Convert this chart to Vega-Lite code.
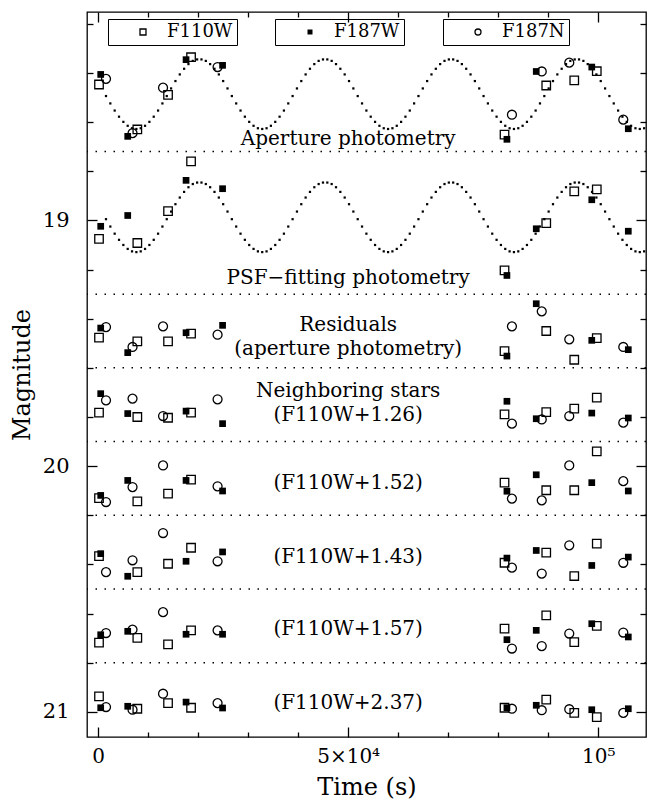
{
  "$schema": "https://vega.github.io/schema/vega-lite/v6.json",
  "width": 559,
  "height": 725,
  "autosize": {"type": "none"},
  "padding": {"left": 87, "top": 12, "right": 7, "bottom": 65},
  "background": "white",
  "config": {
    "view": {"stroke": "black", "strokeWidth": 1.3},
    "font": "DejaVu Serif",
    "axis": {"grid": false, "domain": false, "tickColor": "black", "tickWidth": 1.3, "labelColor": "black", "titleColor": "black", "labelFont": "DejaVu Serif", "titleFont": "DejaVu Serif", "titleFontWeight": "normal"},
    "legend": {"labelFont": "DejaVu Serif", "labelFontSize": 18, "labelColor": "black", "strokeColor": "black", "padding": 4, "symbolStrokeWidth": 1.3, "symbolStrokeColor": "black", "symbolOffset": 22, "labelOffset": 15, "title": null}
  },
  "datasets": {
    "sep": [{"m": 18.72}, {"m": 19.30}, {"m": 19.60}, {"m": 19.90}, {"m": 20.20}, {"m": 20.50}, {"m": 20.80}],
    "notes": [
      {"t": 50000, "m": 18.695, "s": "Aperture photometry"},
      {"t": 50000, "m": 19.259, "s": "PSF−fitting photometry"},
      {"t": 50000, "m": 19.450, "s": "Residuals"},
      {"t": 50000, "m": 19.549, "s": "(aperture photometry)"},
      {"t": 50000, "m": 19.720, "s": "Neighboring stars"},
      {"t": 50000, "m": 19.815, "s": "(F110W+1.26)"},
      {"t": 50000, "m": 20.094, "s": "(F110W+1.52)"},
      {"t": 50000, "m": 20.392, "s": "(F110W+1.43)"},
      {"t": 50000, "m": 20.688, "s": "(F110W+1.57)"},
      {"t": 50000, "m": 20.990, "s": "(F110W+2.37)"}
    ],
    "fit": [
      {"t":1597,"a":18.494,"p":18.995},{"t":2464,"a":18.524,"p":19.025},{"t":3332,"a":18.553,"p":19.054},{"t":4199,"a":18.578,"p":19.079},{"t":5067,"a":18.599,"p":19.100},{"t":5934,"a":18.615,"p":19.116},{"t":6802,"a":18.625,"p":19.126},{"t":7669,"a":18.628,"p":19.129},{"t":8537,"a":18.625,"p":19.126},{"t":9404,"a":18.615,"p":19.116},{"t":10272,"a":18.599,"p":19.100},{"t":11139,"a":18.578,"p":19.079},{"t":12007,"a":18.553,"p":19.054},{"t":12874,"a":18.524,"p":19.025},{"t":13742,"a":18.494,"p":18.995},{"t":14609,"a":18.463,"p":18.964},{"t":15477,"a":18.433,"p":18.934},{"t":16344,"a":18.406,"p":18.907},{"t":17212,"a":18.383,"p":18.884},{"t":18079,"a":18.364,"p":18.865},{"t":18947,"a":18.351,"p":18.852},{"t":19814,"a":18.345,"p":18.846},
      {"t":20682,"a":18.345,"p":18.846},{"t":21549,"a":18.351,"p":18.852},{"t":22417,"a":18.364,"p":18.865},{"t":23284,"a":18.383,"p":18.884},{"t":24152,"a":18.406,"p":18.907},{"t":25019,"a":18.433,"p":18.934},{"t":25887,"a":18.463,"p":18.964},{"t":26754,"a":18.494,"p":18.995},{"t":27622,"a":18.524,"p":19.025},{"t":28489,"a":18.553,"p":19.054},{"t":29357,"a":18.578,"p":19.079},{"t":30224,"a":18.599,"p":19.100},{"t":31092,"a":18.615,"p":19.116},{"t":31959,"a":18.625,"p":19.126},{"t":32827,"a":18.628,"p":19.129},{"t":33694,"a":18.625,"p":19.126},{"t":34562,"a":18.615,"p":19.116},{"t":35429,"a":18.599,"p":19.100},{"t":36297,"a":18.578,"p":19.079},{"t":37164,"a":18.553,"p":19.054},{"t":38032,"a":18.524,"p":19.025},{"t":38899,"a":18.494,"p":18.995},{"t":39767,"a":18.463,"p":18.964},{"t":40634,"a":18.433,"p":18.934},{"t":41502,"a":18.406,"p":18.907},{"t":42369,"a":18.383,"p":18.884},{"t":43237,"a":18.364,"p":18.865},{"t":44104,"a":18.351,"p":18.852},{"t":44972,"a":18.345,"p":18.846},
      {"t":45839,"a":18.345,"p":18.846},{"t":46707,"a":18.351,"p":18.852},{"t":47574,"a":18.364,"p":18.865},{"t":48442,"a":18.383,"p":18.884},{"t":49309,"a":18.406,"p":18.907},{"t":50177,"a":18.433,"p":18.934},{"t":51044,"a":18.463,"p":18.964},{"t":51912,"a":18.494,"p":18.995},{"t":52779,"a":18.524,"p":19.025},{"t":53647,"a":18.553,"p":19.054},{"t":54514,"a":18.578,"p":19.079},{"t":55382,"a":18.599,"p":19.100},{"t":56249,"a":18.615,"p":19.116},{"t":57117,"a":18.625,"p":19.126},{"t":57984,"a":18.628,"p":19.129},{"t":58852,"a":18.625,"p":19.126},{"t":59719,"a":18.615,"p":19.116},{"t":60587,"a":18.599,"p":19.100},{"t":61454,"a":18.578,"p":19.079},{"t":62322,"a":18.553,"p":19.054},{"t":63189,"a":18.524,"p":19.025},{"t":64057,"a":18.494,"p":18.995},{"t":64924,"a":18.463,"p":18.964},{"t":65792,"a":18.433,"p":18.934},{"t":66659,"a":18.406,"p":18.907},{"t":67527,"a":18.383,"p":18.884},{"t":68394,"a":18.364,"p":18.865},{"t":69262,"a":18.351,"p":18.852},{"t":70129,"a":18.345,"p":18.846},
      {"t":70997,"a":18.345,"p":18.846},{"t":71864,"a":18.351,"p":18.852},{"t":72732,"a":18.364,"p":18.865},{"t":73599,"a":18.383,"p":18.884},{"t":74467,"a":18.406,"p":18.907},{"t":75334,"a":18.433,"p":18.934},{"t":76202,"a":18.463,"p":18.964},{"t":77069,"a":18.494,"p":18.995},{"t":77937,"a":18.524,"p":19.025},{"t":78804,"a":18.553,"p":19.054},{"t":79672,"a":18.578,"p":19.079},{"t":80539,"a":18.599,"p":19.100},{"t":81407,"a":18.615,"p":19.116},{"t":82274,"a":18.625,"p":19.126},{"t":83142,"a":18.628,"p":19.129},{"t":84009,"a":18.625,"p":19.126},{"t":84877,"a":18.615,"p":19.116},{"t":85744,"a":18.599,"p":19.100},{"t":86612,"a":18.578,"p":19.079},{"t":87479,"a":18.553,"p":19.054},{"t":88347,"a":18.524,"p":19.025},{"t":89214,"a":18.494,"p":18.995},{"t":90082,"a":18.463,"p":18.964},{"t":90949,"a":18.433,"p":18.934},{"t":91817,"a":18.406,"p":18.907},{"t":92684,"a":18.383,"p":18.884},{"t":93552,"a":18.364,"p":18.865},{"t":94419,"a":18.351,"p":18.852},{"t":95287,"a":18.345,"p":18.846},
      {"t":96154,"a":18.345,"p":18.846},{"t":97022,"a":18.351,"p":18.852},{"t":97889,"a":18.364,"p":18.865},{"t":98757,"a":18.383,"p":18.884},{"t":99624,"a":18.406,"p":18.907},{"t":100492,"a":18.433,"p":18.934},{"t":101359,"a":18.463,"p":18.964},{"t":102227,"a":18.494,"p":18.995},{"t":103094,"a":18.524,"p":19.025},{"t":103962,"a":18.553,"p":19.054},{"t":104829,"a":18.578,"p":19.079},{"t":105697,"a":18.599,"p":19.100},{"t":106564,"a":18.615,"p":19.116},{"t":107432,"a":18.625,"p":19.126},{"t":108299,"a":18.628,"p":19.129},{"t":109167,"a":18.625,"p":19.126}
    ],
    "obs": [
      {"t":200,"m":18.447,"f":"F110W"},{"t":540,"m":18.406,"f":"F187W"},{"t":1600,"m":18.424,"f":"F187N"},
      {"t":5940,"m":18.658,"f":"F187W"},{"t":6900,"m":18.645,"f":"F187N"},{"t":7860,"m":18.630,"f":"F110W"},
      {"t":13000,"m":18.460,"f":"F187N"},{"t":14000,"m":18.489,"f":"F110W"},
      {"t":17600,"m":18.346,"f":"F187W"},{"t":18600,"m":18.336,"f":"F110W"},
      {"t":23900,"m":18.376,"f":"F187N"},{"t":24900,"m":18.369,"f":"F187W"},
      {"t":81260,"m":18.651,"f":"F110W"},{"t":81740,"m":18.670,"f":"F187W"},{"t":82740,"m":18.570,"f":"F187N"},
      {"t":87600,"m":18.394,"f":"F187W"},{"t":88700,"m":18.394,"f":"F187N"},{"t":89600,"m":18.451,"f":"F110W"},
      {"t":94200,"m":18.358,"f":"F187N"},{"t":95200,"m":18.430,"f":"F110W"},
      {"t":98700,"m":18.376,"f":"F187W"},{"t":99700,"m":18.393,"f":"F110W"},
      {"t":105000,"m":18.590,"f":"F187N"},{"t":106000,"m":18.627,"f":"F187W"},

      {"t":540,"m":19.024,"f":"F187W"},{"t":200,"m":19.075,"f":"F110W"},
      {"t":5940,"m":18.980,"f":"F187W"},{"t":7860,"m":19.092,"f":"F110W"},
      {"t":14000,"m":18.962,"f":"F110W"},
      {"t":17600,"m":18.837,"f":"F187W"},{"t":18600,"m":18.760,"f":"F110W"},
      {"t":24900,"m":18.871,"f":"F187W"},
      {"t":81260,"m":19.203,"f":"F110W"},{"t":81740,"m":19.224,"f":"F187W"},
      {"t":87600,"m":19.034,"f":"F187W"},{"t":89600,"m":19.011,"f":"F110W"},
      {"t":95200,"m":18.882,"f":"F110W"},
      {"t":98700,"m":18.916,"f":"F187W"},{"t":99700,"m":18.874,"f":"F110W"},
      {"t":106000,"m":19.044,"f":"F187W"},

      {"t":540,"m":19.438,"f":"F187W"},{"t":1600,"m":19.434,"f":"F187N"},{"t":200,"m":19.477,"f":"F110W"},
      {"t":5940,"m":19.538,"f":"F187W"},{"t":6900,"m":19.515,"f":"F187N"},{"t":7860,"m":19.492,"f":"F110W"},
      {"t":13000,"m":19.431,"f":"F187N"},{"t":14000,"m":19.492,"f":"F110W"},
      {"t":17600,"m":19.457,"f":"F187W"},{"t":18600,"m":19.461,"f":"F110W"},
      {"t":23900,"m":19.465,"f":"F187N"},{"t":24900,"m":19.427,"f":"F187W"},
      {"t":81260,"m":19.532,"f":"F110W"},{"t":81740,"m":19.552,"f":"F187W"},{"t":82740,"m":19.431,"f":"F187N"},
      {"t":87600,"m":19.339,"f":"F187W"},{"t":88700,"m":19.370,"f":"F187N"},{"t":89600,"m":19.450,"f":"F110W"},
      {"t":94200,"m":19.484,"f":"F187N"},{"t":95200,"m":19.567,"f":"F110W"},
      {"t":98700,"m":19.488,"f":"F187W"},{"t":99700,"m":19.479,"f":"F110W"},
      {"t":105000,"m":19.515,"f":"F187N"},{"t":106000,"m":19.526,"f":"F187W"},

      {"t":540,"m":19.705,"f":"F187W"},{"t":1600,"m":19.732,"f":"F187N"},{"t":200,"m":19.782,"f":"F110W"},
      {"t":5940,"m":19.786,"f":"F187W"},{"t":6900,"m":19.725,"f":"F187N"},{"t":7860,"m":19.800,"f":"F110W"},
      {"t":13000,"m":19.796,"f":"F187N"},{"t":14000,"m":19.803,"f":"F110W"},
      {"t":17600,"m":19.776,"f":"F187W"},{"t":18600,"m":19.782,"f":"F110W"},
      {"t":23900,"m":19.728,"f":"F187N"},{"t":24900,"m":19.827,"f":"F187W"},
      {"t":81740,"m":19.736,"f":"F187W"},{"t":81260,"m":19.789,"f":"F110W"},{"t":82740,"m":19.827,"f":"F187N"},
      {"t":87600,"m":19.807,"f":"F187W"},{"t":88700,"m":19.810,"f":"F187N"},{"t":89600,"m":19.780,"f":"F110W"},
      {"t":94200,"m":19.796,"f":"F187N"},{"t":95200,"m":19.766,"f":"F110W"},
      {"t":98700,"m":19.784,"f":"F187W"},{"t":99700,"m":19.721,"f":"F110W"},
      {"t":105000,"m":19.823,"f":"F187N"},{"t":106000,"m":19.804,"f":"F187W"},

      {"t":540,"m":20.119,"f":"F187W"},{"t":200,"m":20.130,"f":"F110W"},{"t":1600,"m":20.146,"f":"F187N"},
      {"t":5940,"m":20.058,"f":"F187W"},{"t":6900,"m":20.085,"f":"F187N"},{"t":7860,"m":20.143,"f":"F110W"},
      {"t":13000,"m":19.997,"f":"F187N"},{"t":14000,"m":20.112,"f":"F110W"},
      {"t":17600,"m":20.058,"f":"F187W"},{"t":18600,"m":20.055,"f":"F110W"},
      {"t":23900,"m":20.082,"f":"F187N"},{"t":24900,"m":20.101,"f":"F187W"},
      {"t":81260,"m":20.067,"f":"F110W"},{"t":81740,"m":20.102,"f":"F187W"},{"t":82740,"m":20.132,"f":"F187N"},
      {"t":87600,"m":20.035,"f":"F187W"},{"t":88700,"m":20.139,"f":"F187N"},{"t":89600,"m":20.098,"f":"F110W"},
      {"t":94200,"m":19.997,"f":"F187N"},{"t":95200,"m":20.098,"f":"F110W"},
      {"t":98700,"m":20.067,"f":"F187W"},{"t":99700,"m":19.940,"f":"F110W"},
      {"t":105000,"m":20.061,"f":"F187N"},{"t":106000,"m":20.101,"f":"F187W"},

      {"t":540,"m":20.356,"f":"F187W"},{"t":200,"m":20.366,"f":"F110W"},{"t":1600,"m":20.431,"f":"F187N"},
      {"t":5940,"m":20.448,"f":"F187W"},{"t":6900,"m":20.383,"f":"F187N"},{"t":7860,"m":20.431,"f":"F110W"},
      {"t":13000,"m":20.272,"f":"F187N"},{"t":14000,"m":20.397,"f":"F110W"},
      {"t":17600,"m":20.387,"f":"F187W"},{"t":18600,"m":20.332,"f":"F110W"},
      {"t":23900,"m":20.387,"f":"F187N"},{"t":24900,"m":20.349,"f":"F187W"},
      {"t":81260,"m":20.393,"f":"F110W"},{"t":81740,"m":20.374,"f":"F187W"},{"t":82740,"m":20.413,"f":"F187N"},
      {"t":87600,"m":20.343,"f":"F187W"},{"t":88700,"m":20.437,"f":"F187N"},{"t":89600,"m":20.352,"f":"F110W"},
      {"t":94200,"m":20.322,"f":"F187N"},{"t":95200,"m":20.447,"f":"F110W"},
      {"t":98700,"m":20.404,"f":"F187W"},{"t":99700,"m":20.315,"f":"F110W"},
      {"t":105000,"m":20.393,"f":"F187N"},{"t":106000,"m":20.370,"f":"F187W"},

      {"t":540,"m":20.686,"f":"F187W"},{"t":1600,"m":20.679,"f":"F187N"},{"t":200,"m":20.718,"f":"F110W"},
      {"t":5940,"m":20.672,"f":"F187W"},{"t":6900,"m":20.665,"f":"F187N"},{"t":7860,"m":20.699,"f":"F110W"},
      {"t":13000,"m":20.594,"f":"F187N"},{"t":14000,"m":20.725,"f":"F110W"},
      {"t":17600,"m":20.684,"f":"F187W"},{"t":18600,"m":20.668,"f":"F110W"},
      {"t":23900,"m":20.668,"f":"F187N"},{"t":24900,"m":20.684,"f":"F187W"},
      {"t":81260,"m":20.661,"f":"F110W"},{"t":81740,"m":20.706,"f":"F187W"},{"t":82740,"m":20.742,"f":"F187N"},
      {"t":87600,"m":20.668,"f":"F187W"},{"t":88700,"m":20.732,"f":"F187N"},{"t":89600,"m":20.607,"f":"F110W"},
      {"t":94200,"m":20.681,"f":"F187N"},{"t":95200,"m":20.716,"f":"F110W"},
      {"t":98700,"m":20.641,"f":"F187W"},{"t":99700,"m":20.650,"f":"F110W"},
      {"t":105000,"m":20.677,"f":"F187N"},{"t":106000,"m":20.695,"f":"F187W"},

      {"t":200,"m":20.937,"f":"F110W"},{"t":540,"m":20.983,"f":"F187W"},{"t":1600,"m":20.980,"f":"F187N"},
      {"t":5940,"m":20.977,"f":"F187W"},{"t":6900,"m":20.991,"f":"F187N"},{"t":7860,"m":20.987,"f":"F110W"},
      {"t":13000,"m":20.926,"f":"F187N"},{"t":14000,"m":20.964,"f":"F110W"},
      {"t":17600,"m":20.960,"f":"F187W"},{"t":18600,"m":20.983,"f":"F110W"},
      {"t":23900,"m":20.964,"f":"F187N"},{"t":24900,"m":20.984,"f":"F187W"},
      {"t":81260,"m":20.983,"f":"F110W"},{"t":81740,"m":20.983,"f":"F187W"},{"t":82740,"m":20.987,"f":"F187N"},
      {"t":87600,"m":20.973,"f":"F187W"},{"t":88700,"m":20.993,"f":"F187N"},{"t":89600,"m":20.950,"f":"F110W"},
      {"t":94200,"m":20.989,"f":"F187N"},{"t":95200,"m":21.004,"f":"F110W"},
      {"t":98700,"m":20.991,"f":"F187W"},{"t":99700,"m":21.021,"f":"F110W"},
      {"t":105000,"m":21.004,"f":"F187N"},{"t":106000,"m":20.987,"f":"F187W"}
    ]
  },
  "layer": [
    {
      "data": {"name": "sep"},
      "mark": {"type": "rule", "color": "black", "strokeWidth": 1.5, "strokeDash": [1.5, 7.5]},
      "encoding": {
        "y": {"field": "m", "type": "quantitative", "scale": {"domain": [18.152, 21.102], "reverse": true, "nice": false, "zero": false}, "axis": null}
      }
    },
    {
      "data": {"name": "fit"},
      "mark": {"type": "point", "shape": "square", "filled": true, "color": "black", "size": 5, "opacity": 1},
      "encoding": {
        "x": {"field": "t", "type": "quantitative", "scale": {"domain": [-2200, 109540], "nice": false, "zero": false},
              "axis": {"orient": "bottom", "values": [0, 50000, 100000], "labelExpr": "datum.value == 0 ? '0' : datum.value == 50000 ? '5×10⁴' : '10⁵'", "tickSize": -10, "labelPadding": 19, "labelFontSize": 20, "labelFlush": false, "labelOverlap": false, "title": "Time (s)", "titleFontSize": 24, "titlePadding": 9}},
        "y": {"field": "a", "type": "quantitative", "scale": {"domain": [18.152, 21.102], "reverse": true, "nice": false, "zero": false},
              "axis": {"orient": "left", "values": [19, 20, 21], "format": "d", "tickSize": -10, "labelPadding": 28, "labelFontSize": 21, "labelFlush": false, "labelOverlap": false, "title": "Magnitude", "titleFontSize": 24, "titlePadding": 8}}
      }
    },
    {
      "data": {"name": "fit"},
      "mark": {"type": "point", "shape": "square", "filled": true, "color": "black", "size": 5, "opacity": 1},
      "encoding": {
        "x": {"field": "t", "type": "quantitative", "scale": {"domain": [-2200, 109540], "nice": false, "zero": false},
              "axis": {"orient": "bottom", "values": [10000, 20000, 30000, 40000, 60000, 70000, 80000, 90000], "tickSize": -5, "labels": false, "title": null}},
        "y": {"field": "p", "type": "quantitative", "scale": {"domain": [18.152, 21.102], "reverse": true, "nice": false, "zero": false},
              "axis": {"orient": "left", "values": [18.2, 18.4, 18.6, 18.8, 19.2, 19.4, 19.6, 19.8, 20.2, 20.4, 20.6, 20.8], "tickSize": -6, "labels": false, "title": null}}
      }
    },
    {
      "data": {"name": "obs"},
      "transform": [{"filter": "datum.f == 'F110W'"}],
      "mark": {"type": "point", "filled": false, "color": "black", "strokeWidth": 1.3, "size": 72, "opacity": 1},
      "encoding": {
        "x": {"field": "t", "type": "quantitative", "scale": {"domain": [-2200, 109540], "nice": false, "zero": false},
              "axis": {"orient": "top", "values": [0, 50000, 100000], "tickSize": -10, "labels": false, "title": null}},
        "y": {"field": "m", "type": "quantitative", "scale": {"domain": [18.152, 21.102], "reverse": true, "nice": false, "zero": false},
              "axis": {"orient": "right", "values": [19, 20, 21], "tickSize": -10, "labels": false, "title": null}},
        "shape": {"field": "f", "type": "nominal", "scale": {"domain": ["F110W"], "range": ["square"]},
                  "legend": {"orient": "none", "legendX": 21, "legendY": 7, "symbolSize": 36, "symbolFillColor": "transparent", "symbolType": "square"}}
      }
    },
    {
      "data": {"name": "obs"},
      "transform": [{"filter": "datum.f == 'F187N'"}],
      "mark": {"type": "point", "filled": false, "color": "black", "strokeWidth": 1.3, "size": 80, "opacity": 1},
      "encoding": {
        "x": {"field": "t", "type": "quantitative", "scale": {"domain": [-2200, 109540], "nice": false, "zero": false},
              "axis": {"orient": "top", "values": [10000, 20000, 30000, 40000, 60000, 70000, 80000, 90000], "tickSize": -5, "labels": false, "title": null}},
        "y": {"field": "m", "type": "quantitative", "scale": {"domain": [18.152, 21.102], "reverse": true, "nice": false, "zero": false},
              "axis": {"orient": "right", "values": [18.2, 18.4, 18.6, 18.8, 19.2, 19.4, 19.6, 19.8, 20.2, 20.4, 20.6, 20.8], "tickSize": -6, "labels": false, "title": null}},
        "shape": {"field": "f", "type": "nominal", "scale": {"domain": ["F187N"], "range": ["circle"]},
                  "legend": {"orient": "none", "legendX": 356, "legendY": 7, "symbolSize": 36, "symbolFillColor": "transparent", "symbolType": "circle"}}
      }
    },
    {
      "data": {"name": "obs"},
      "transform": [{"filter": "datum.f == 'F187W'"}],
      "mark": {"type": "point", "filled": true, "color": "black", "size": 45, "opacity": 1},
      "encoding": {
        "x": {"field": "t", "type": "quantitative", "scale": {"domain": [-2200, 109540], "nice": false, "zero": false}, "axis": null},
        "y": {"field": "m", "type": "quantitative", "scale": {"domain": [18.152, 21.102], "reverse": true, "nice": false, "zero": false}, "axis": null},
        "shape": {"field": "f", "type": "nominal", "scale": {"domain": ["F187W"], "range": ["square"]},
                  "legend": {"orient": "none", "legendX": 188, "legendY": 7, "symbolSize": 25, "symbolFillColor": "black", "symbolType": "square"}}
      }
    },
    {
      "data": {"name": "notes"},
      "mark": {"type": "text", "font": "DejaVu Serif", "fontSize": 20, "color": "black", "align": "center", "baseline": "alphabetic"},
      "encoding": {
        "x": {"field": "t", "type": "quantitative", "scale": {"domain": [-2200, 109540], "nice": false, "zero": false}, "axis": null},
        "y": {"field": "m", "type": "quantitative", "scale": {"domain": [18.152, 21.102], "reverse": true, "nice": false, "zero": false}, "axis": null},
        "text": {"field": "s", "type": "nominal"}
      }
    }
  ],
  "resolve": {"scale": {"shape": "independent"}, "axis": {"x": "independent", "y": "independent"}}
}
